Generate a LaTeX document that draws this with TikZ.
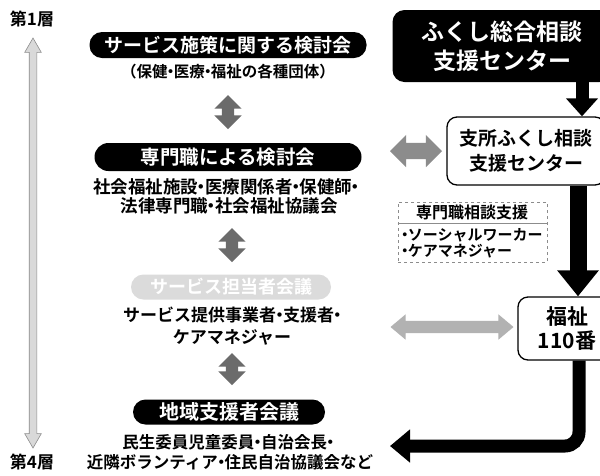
\documentclass[tikz,border=0pt]{standalone}
\usepackage{fontspec}
\setmainfont{Noto Sans CJK JP Bold}
\usetikzlibrary{arrows.meta,shapes.arrows}
\newcommand\nd{\kern-.3em・\kern-.3em}
\newcommand\fs[1]{\fontsize{#1}{#1}\selectfont}
\begin{document}
\begin{tikzpicture}[x=1pt,y=-1pt,
  pill/.style={fill=black,text=white,rounded corners=12.5,minimum height=26,inner sep=0},
  sub/.style={inner sep=0,align=center},
  vdbl/.style={double arrow,rotate=90,fill=black!58,inner xsep=0,inner ysep=6,minimum height=#1,double arrow head extend=7.5},
  blk/.style={line width=14,-{Triangle[width=32,length=20]}},
  wbox/.style={draw=black,line width=1.3,rounded corners=10,inner sep=0,align=center}
]
\clip (0,0) rectangle (600,475);
\fill[white] (0,0) rectangle (600,475);
% layer labels and long arrow
\node[font=\fs{17}] (l1) at (32,19) {第1層};
\node[font=\fs{17}] (l4) at (32,462) {第4層};
\node[double arrow,rotate=90,fill=black!15,draw=black!45,line width=.6,inner xsep=0,inner ysep=3.5,
  minimum height=410,double arrow head extend=4.5,double arrow tip angle=60] (la) at (33,243) {};
% left column
\node[pill,minimum width=277,font=\fs{19}] (p1) at (228,45) {サービス施策に関する検討会};
\node[sub,font=\fs{15.5}] (s1) at (228,72) {（保健\nd 医療\nd 福祉の各種団体）};
\node[vdbl=34] (v1) at (228,112) {};
\node[pill,minimum width=267,minimum height=28,rounded corners=14,font=\fs{19.5}] (p2) at (228,157) {専門職による検討会};
\node[sub,font=\fs{17.5}] (s2a) at (226,187) {社会福祉施設\nd 医療関係者\nd 保健師\nd};
\node[sub,font=\fs{17.5}] (s2b) at (229,206) {法律専門職\nd 社会福祉協議会};
\node[vdbl=34] (v2) at (232,245) {};
\node[pill,fill=black!14,minimum width=200,minimum height=25,font=\fs{18}] (p3) at (231,287) {サービス担当者会議};
\node[sub,font=\fs{17}] (s3a) at (232,315) {サービス提供事業者\nd 支援者\nd};
\node[sub,font=\fs{17}] (s3b) at (232,337) {ケアマネジャー};
\node[vdbl=32] (v3) at (232,369) {};
\node[pill,minimum width=192,minimum height=25,font=\fs{20}] (p4) at (229,412) {地域支援者会議};
\node[sub,font=\fs{16.5}] (s4a) at (228,442) {民生委員児童委員\nd 自治会長\nd};
\node[sub,font=\fs{16.5}] (s4b) at (230,462) {近隣ボランティア\nd 住民自治協議会など};
% right column
\node[fill=black,rounded corners=12,minimum width=219,minimum height=72,inner sep=0,text=white,align=center,
  font=\fontsize{23}{29}\selectfont] (b1) at (502,46) {ふくし総合相談\\支援センター};
\node[wbox,minimum width=158,minimum height=68,font=\fontsize{19}{25}\selectfont] (b2) at (526,151) {支所ふくし相談\\支援センター};
\node[wbox,minimum width=98,minimum height=63,font=\fontsize{21}{24}\selectfont] (fk) at (567,328.5) {福祉\\110番};
\node[double arrow,fill=black!45,inner xsep=0,inner ysep=8,minimum height=52,double arrow head extend=8] (h1) at (416,151) {};
\node[double arrow,fill=black!30,inner xsep=0,inner ysep=6,minimum height=123,double arrow head extend=6.5,double arrow tip angle=80] (h2) at (452,327) {};
% dashed box
\node[draw=black!45,dashed,line width=.6,minimum width=149,minimum height=60,inner sep=0] (db) at (472.5,232) {};
\node[font=\fs{16},inner sep=0] (dt) at (472,212.5) {専門職相談支援};
\draw[black!45,line width=.6] (db.west |- 0,223) -- (db.east |- 0,223);
\node[font=\fs{15},anchor=west,inner sep=0] (d1) at (401,235) {\kern-.25em・\kern-.3em ソーシャルワーカー};
\node[font=\fs{15},anchor=west,inner sep=0] (d2) at (401,251) {\kern-.25em・\kern-.3em ケアマネジャー};
% black arrows
\draw[blk,line width=13,-{Triangle[width=31,length=18]}] ([xshift=80pt]b1.south) -- ([xshift=56pt]b2.north);
\draw[blk,line width=17,-{Triangle[width=40,length=26]}] ([xshift=52pt]b2.south) -- ([xshift=11pt]fk.north);
\coordinate (tip) at (390,446);
\draw[blk,line width=13,rounded corners=14,-{Triangle[width=32,length=20]}] ([xshift=12pt]fk.south) |- (tip);
\end{tikzpicture}
\end{document}
